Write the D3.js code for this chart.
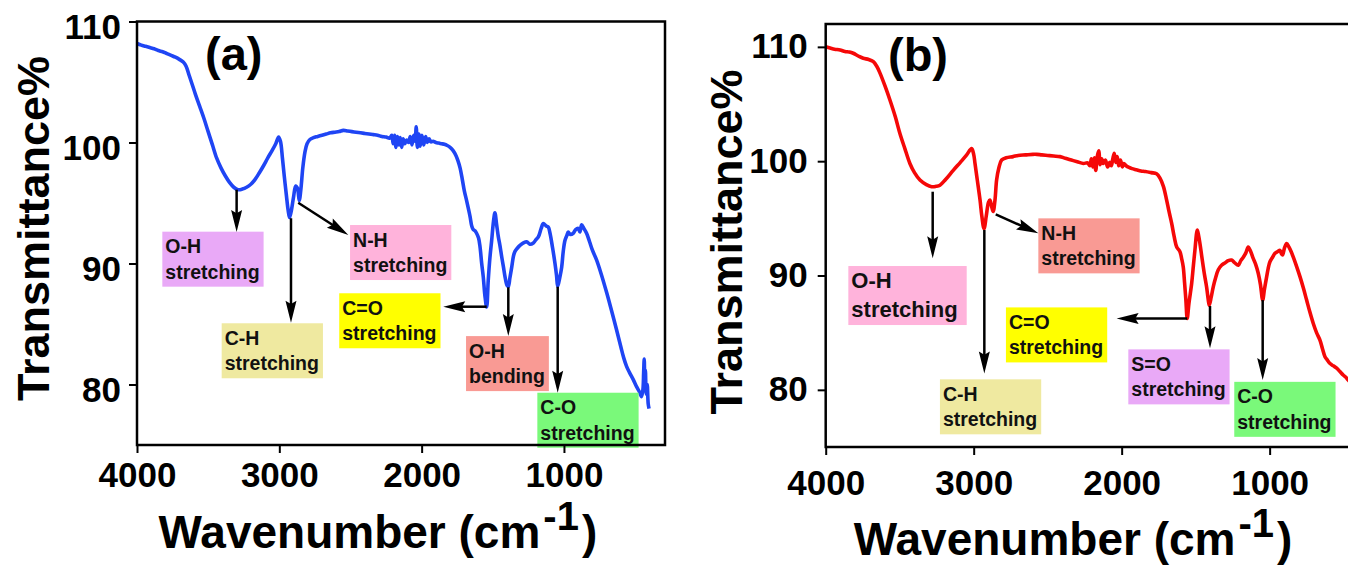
<!DOCTYPE html>
<html>
<head>
<meta charset="utf-8">
<script src="https://cdn.jsdelivr.net/npm/d3@7"></script>
<style>
  html, body { margin: 0; padding: 0; background: #fff; }
  svg { display: block; }
  text { font-family: "Liberation Sans", Arial, sans-serif; font-weight: bold; }
</style>
</head>
<body>
<svg id="chart" width="1348" height="569"></svg>
<script>
// ---- spectra (wavenumber cm-1 / transmittance %) ----
const waveA = [4000,3970,3940,3910,3880,3850,3820,3790,3760,3730,3700,3675,3655,3635,3615,3590,3560,3530,3500,3470,
  3440,3410,3380,3350,3320,3290,3260,3230,3200,3170,3140,3110,3080,3050,3025,3005,2992,2978,2965,2950,
  2938,2928,2915,2900,2885,2872,2860,2848,2835,2820,2805,2785,2760,2730,2700,2670,2640,2610,2580,2550,
  2520,2490,2460,2430,2400,2370,2340,2310,2280,2250,2225,2210,2200,2190,2180,2170,2160,2150,2140,2130,
  2118,2105,2092,2080,2068,2056,2046,2038,2030,2020,2010,1998,1985,1972,1960,1948,1935,1920,1900,1880,
  1860,1840,1820,1800,1780,1760,1745,1730,1715,1700,1684,1660,1648,1637,1625,1614,1600,1590,1578,1567,
  1555,1543,1532,1520,1508,1495,1485,1473,1461,1450,1438,1425,1414,1400,1391,1380,1367,1355,1344,1325,
  1309,1285,1262,1240,1215,1195,1180,1160,1145,1125,1110,1098,1080,1063,1052,1044,1030,1016,1005,993,
  980,970,955,935,918,900,888,876,860,841,820,800,771,740,700,670,630,600,580,560,
  540,513,489,470,455,445,440,436,432,428,422,415,408,402];
const transA = [108.2,108.05,107.95,107.85,107.75,107.6,107.5,107.35,107.2,107.05,106.85,106.65,106.3,105.6,104.9,104.0,103.0,102.0,100.9,99.8,
  98.7,97.9,97.25,96.7,96.3,96.1,96.15,96.3,96.55,96.95,97.5,98.1,98.75,99.35,99.9,100.45,100.1,98.7,97.2,95.6,
  94.4,93.8,94.4,95.5,96.4,96.2,95.2,96.2,97.9,99.2,99.9,100.25,100.4,100.5,100.6,100.7,100.8,100.85,100.9,101.0,
  100.95,100.9,100.85,100.8,100.75,100.7,100.65,100.6,100.5,100.45,100.35,100.6,99.9,100.6,99.6,100.5,99.8,100.4,99.6,100.3,
  99.9,100.2,100.0,100.5,99.8,100.6,100.1,101.3,99.6,100.7,99.7,100.6,99.8,100.5,100.0,100.3,100.05,100.1,100.0,99.95,
  99.9,99.85,99.75,99.6,99.35,98.95,98.5,97.9,97.0,96.0,95.2,93.9,93.1,92.8,92.7,92.5,92.1,91.4,90.0,88.9,
  87.3,86.4,88.6,90.5,91.9,93.5,94.2,93.2,92.2,91.5,90.6,89.7,88.9,88.2,88.1,88.8,89.7,90.6,91.0,91.3,
  91.5,91.7,91.8,91.6,91.7,92.0,92.2,92.9,93.3,93.1,93.0,92.5,91.3,90.0,89.0,88.1,88.8,89.7,91.0,91.9,
  92.3,92.6,92.4,92.5,92.8,92.9,92.6,93.2,92.9,92.5,91.8,91.1,90.3,89.2,87.6,86.3,84.5,83.1,82.2,81.5,
  81.0,80.4,79.8,79.4,79.0,79.6,81.0,82.1,80.4,81.2,79.2,80.0,78.4,78.0];

const waveB = [4000,3970,3940,3903,3870,3840,3814,3780,3746,3710,3678,3655,3633,3600,3566,3530,3498,3465,3431,3400,
  3363,3320,3284,3255,3228,3190,3138,3090,3050,3014,3000,2991,2975,2957,2945,2930,2915,2900,2890,2878,
  2868,2856,2845,2830,2811,2780,2734,2700,2650,2600,2574,2540,2500,2460,2417,2380,2340,2300,2259,2230,
  2215,2205,2195,2185,2175,2165,2155,2145,2135,2125,2110,2095,2080,2070,2060,2050,2040,2030,2020,2008,
  1995,1985,1970,1950,1930,1900,1870,1840,1800,1764,1740,1718,1696,1680,1662,1645,1628,1606,1595,1584,
  1575,1566,1557,1545,1527,1515,1505,1489,1480,1471,1460,1449,1438,1426,1416,1408,1395,1381,1365,1347,
  1325,1302,1280,1257,1235,1212,1195,1178,1160,1145,1128,1111,1095,1077,1062,1047,1035,1020,1010,998,
  980,964,945,930,920,912,900,885,870,855,840,818,795,772,750,728,705,683,660,643,
  626,610,592,570,547,525,503,485,469,450,430];
const transB = [110.0,109.9,109.8,109.73,109.6,109.55,109.44,109.2,109.0,108.9,108.7,108.3,107.7,106.6,105.35,103.9,102.4,101.1,99.8,99.0,
  98.35,97.95,97.77,97.8,97.9,98.4,99.2,99.9,100.5,101.1,100.6,99.8,98.3,96.6,95.2,94.1,95.2,96.4,96.6,96.0,
  95.6,96.6,98.35,99.4,100.1,100.3,100.4,100.5,100.55,100.6,100.6,100.55,100.5,100.45,100.4,100.25,100.1,99.95,99.8,99.85,
  99.6,100.2,99.5,100.3,99.2,100.4,100.9,99.7,100.2,99.8,100.1,99.5,99.9,99.6,100.2,100.7,99.9,100.4,99.6,100.1,
  99.5,99.8,99.6,99.45,99.35,99.25,99.15,99.1,99.0,98.9,98.5,97.8,96.6,95.6,94.56,93.4,92.5,92.08,91.5,90.77,
  89.4,87.85,86.25,87.6,89.3,90.9,92.2,93.98,93.5,92.8,91.8,90.8,89.9,89.0,88.0,87.4,88.1,89.0,89.8,90.5,
  90.9,91.1,91.3,91.35,91.1,90.9,91.3,91.6,92.0,92.5,92.1,91.5,91.0,90.2,89.2,87.85,88.8,89.9,90.6,91.2,
  91.6,91.94,92.1,92.2,91.9,91.8,92.4,92.8,92.5,92.1,91.6,90.8,89.9,88.9,87.85,86.8,85.8,85.0,84.35,83.6,
  82.9,82.6,82.3,82.1,81.9,81.6,81.3,81.1,80.85,80.6,80.3];

const xTicks = [4000, 3000, 2000, 1000];
const yTicks = [80, 90, 100, 110];

// band assignments: label text and the band position (cm-1, %T) the arrow starts from
const bandsA = [
  { lines: ["O-H", "stretching"], peak: [3300, 96.1] },
  { lines: ["C-H", "stretching"], peak: [2918, 93.74] },
  { lines: ["N-H", "stretching"], peak: [2867, 95.02] },
  { lines: ["C=O", "stretching"], peak: [1543, 86.43] },
  { lines: ["O-H", "bending"], peak: [1391, 88.03] },
  { lines: ["C-O", "stretching"], peak: [1044, 88.08] }
];
const bandsB = [
  { lines: ["O-H", "stretching"], peak: [3277, 97.33] },
  { lines: ["C-H", "stretching"], peak: [2928, 93.98] },
  { lines: ["N-H", "stretching"], peak: [2851, 95.35] },
  { lines: ["C=O", "stretching"], peak: [1557, 86.25] },
  { lines: ["S=O", "stretching"], peak: [1403, 87.33] },
  { lines: ["C-O", "stretching"], peak: [1047, 87.85] }
];

// where arrows end and boxes sit (in axis units), plus box colours
const violet = "#e9a9f7", khaki = "#efe9a0", pink = "#ffb3db",
      yellow = "#ffff00", salmon = "#f99a94", green = "#7af97a";
const calloutsA = [
  { tip: [3300, 92.6], box: [3822, 92.63], fill: violet },
  { tip: [2918, 85.11], box: [3405, 85.06], fill: khaki },
  { tip: [2515, 92.36], box: [2503, 93.18], fill: pink },
  { tip: [1848, 86.43], box: [2579, 87.54], fill: yellow },
  { tip: [1391, 84.0], box: [1688, 84.0], fill: salmon },
  { tip: [1044, 79.32], box: [1187, 79.32], fill: green }
];
const calloutsB = [
  { tip: [3277, 91.5], box: [3847, 90.83], fill: pink, big: true },
  { tip: [2928, 81.44], box: [3228, 80.92], fill: khaki },
  { tip: [2563, 93.69], box: [2563, 95.0], fill: salmon },
  { tip: [2034, 86.25], box: [2782, 87.21], fill: yellow },
  { tip: [1403, 83.63], box: [1955, 83.54], fill: violet },
  { tip: [1047, 80.85], box: [1239, 80.7], fill: green }
];

const panels = [
  { tag: "(a)", left: 137, top: 21.5, width: 528, height: 423.5,
    xDomain: [4000, 290], yDomain: [75, 110],
    wave: waveA, trans: transA, color: "#1f45f4",
    bands: bandsA, callouts: calloutsA,
    xPad: 9, yPad: 8, yDy: 17,
    tagPos: [68, 48.5], yTitle: [-88, 207], xTitle: [21.6, 526.5] },
  { tag: "(b)", left: 825.7, top: 24, width: 549, height: 423,
    xDomain: [4000, 290], yDomain: [75, 112],
    wave: waveB, trans: transB, color: "#f50808",
    bands: bandsB, callouts: calloutsB,
    xPad: 15, yPad: 10, yDy: 11,
    tagPos: [62.3, 47], yTitle: [-84, 218], xTitle: [28.1, 531] }
];

const svg = d3.select("#chart");
svg.append("rect").attr("width", 1348).attr("height", 569).attr("fill", "#fff");

function drawPanel(p) {
  const g = svg.append("g").attr("transform", `translate(${p.left},${p.top})`);
  const x = d3.scaleLinear().domain(p.xDomain).range([0, p.width]);
  const y = d3.scaleLinear().domain(p.yDomain).range([p.height, 0]);

  // spectrum
  const pts = p.wave.map((w, i) => [w, p.trans[i]]);
  const line = d3.line()
    .x(d => x(d[0]))
    .y(d => y(d[1]))
    .curve(d3.curveCatmullRom.alpha(0.5));
  g.append("path")
    .datum(pts)
    .attr("d", line)
    .attr("fill", "none")
    .attr("stroke", p.color)
    .attr("stroke-width", 3.6)
    .attr("stroke-linejoin", "round");

  // label boxes
  p.bands.forEach((b, i) => {
    const c = p.callouts[i];
    const fs = c.big ? 22 : 19.5;
    const bx = x(c.box[0]), by = y(c.box[1]);
    const box = g.append("g");
    const rect = box.append("rect").attr("fill", c.fill);
    const t = box.append("text")
      .attr("font-size", fs)
      .attr("fill", "#111");
    b.lines.forEach((ln, k) => {
      t.append("tspan")
        .attr("x", bx + 3)
        .attr("y", by + (c.big ? 22.3 : 21.5) + k * (c.big ? 28.4 : 25.5))
        .text(ln);
    });
    const tw = t.node().getBBox().width;
    rect.attr("x", bx).attr("y", by)
      .attr("width", tw + (c.big ? 12 : 7))
      .attr("height", c.big ? 59 : 55);
  });

  // arrows from band to box
  p.bands.forEach((b, i) => {
    const c = p.callouts[i];
    const x0 = x(b.peak[0]), y0 = y(b.peak[1]);
    const x1 = x(c.tip[0]), y1 = y(c.tip[1]);
    const len = Math.hypot(x1 - x0, y1 - y0);
    const ux = (x1 - x0) / len, uy = (y1 - y0) / len;
    const hl = 22, hw = 5.5;
    g.append("line")
      .attr("x1", x0).attr("y1", y0)
      .attr("x2", x1 - ux * hl * 0.8).attr("y2", y1 - uy * hl * 0.8)
      .attr("stroke", "#000").attr("stroke-width", 2.5);
    const bxp = x1 - ux * hl, byp = y1 - uy * hl;
    g.append("path")
      .attr("d", `M${x1},${y1}L${bxp - uy * hw},${byp + ux * hw}L${x1 - ux * hl * 0.85},${y1 - uy * hl * 0.85}L${bxp + uy * hw},${byp - ux * hw}Z`)
      .attr("fill", "#000");
  });

  // frame
  g.append("rect")
    .attr("width", p.width).attr("height", p.height)
    .attr("fill", "none").attr("stroke", "#000").attr("stroke-width", 2.5);

  // axes
  const ya = g.append("g").call(d3.axisLeft(y).tickValues(yTicks).tickSize(8)
    .tickPadding(p.yPad).tickFormat(d3.format("d")));
  const xa = g.append("g").attr("transform", `translate(0,${p.height})`)
    .call(d3.axisBottom(x).tickValues(xTicks).tickSize(8)
      .tickPadding(p.xPad).tickFormat(d3.format("d")));
  [ya, xa].forEach(a => {
    a.select(".domain").remove();
    a.selectAll(".tick line").attr("stroke", "#000").attr("stroke-width", 2);
    a.selectAll(".tick text").attr("font-size", 35).attr("fill", "#000")
      .style("font-family", "'Liberation Sans', Arial, sans-serif").style("font-weight", "bold");
  });
  ya.selectAll(".tick text").attr("dy", p.yDy);

  // panel tag
  g.append("text").attr("x", p.tagPos[0]).attr("y", p.tagPos[1])
    .attr("font-size", 47).text(p.tag);

  // axis titles
  g.append("text")
    .attr("transform", `translate(${p.yTitle[0]},${p.yTitle[1]}) rotate(-90)`)
    .attr("text-anchor", "middle")
    .attr("font-size", 45)
    .text("Transmittance%");

  const xt = g.append("text")
    .attr("x", p.xTitle[0]).attr("y", p.xTitle[1])
    .attr("font-size", 46);
  xt.append("tspan").text("Wavenumber (cm");
  xt.append("tspan").attr("font-size", 40).attr("dx", 3).attr("dy", -18).text("-1");
  xt.append("tspan").attr("dx", 3).attr("dy", 18).text(")");
}

panels.forEach(drawPanel);
</script>
</body>
</html>
